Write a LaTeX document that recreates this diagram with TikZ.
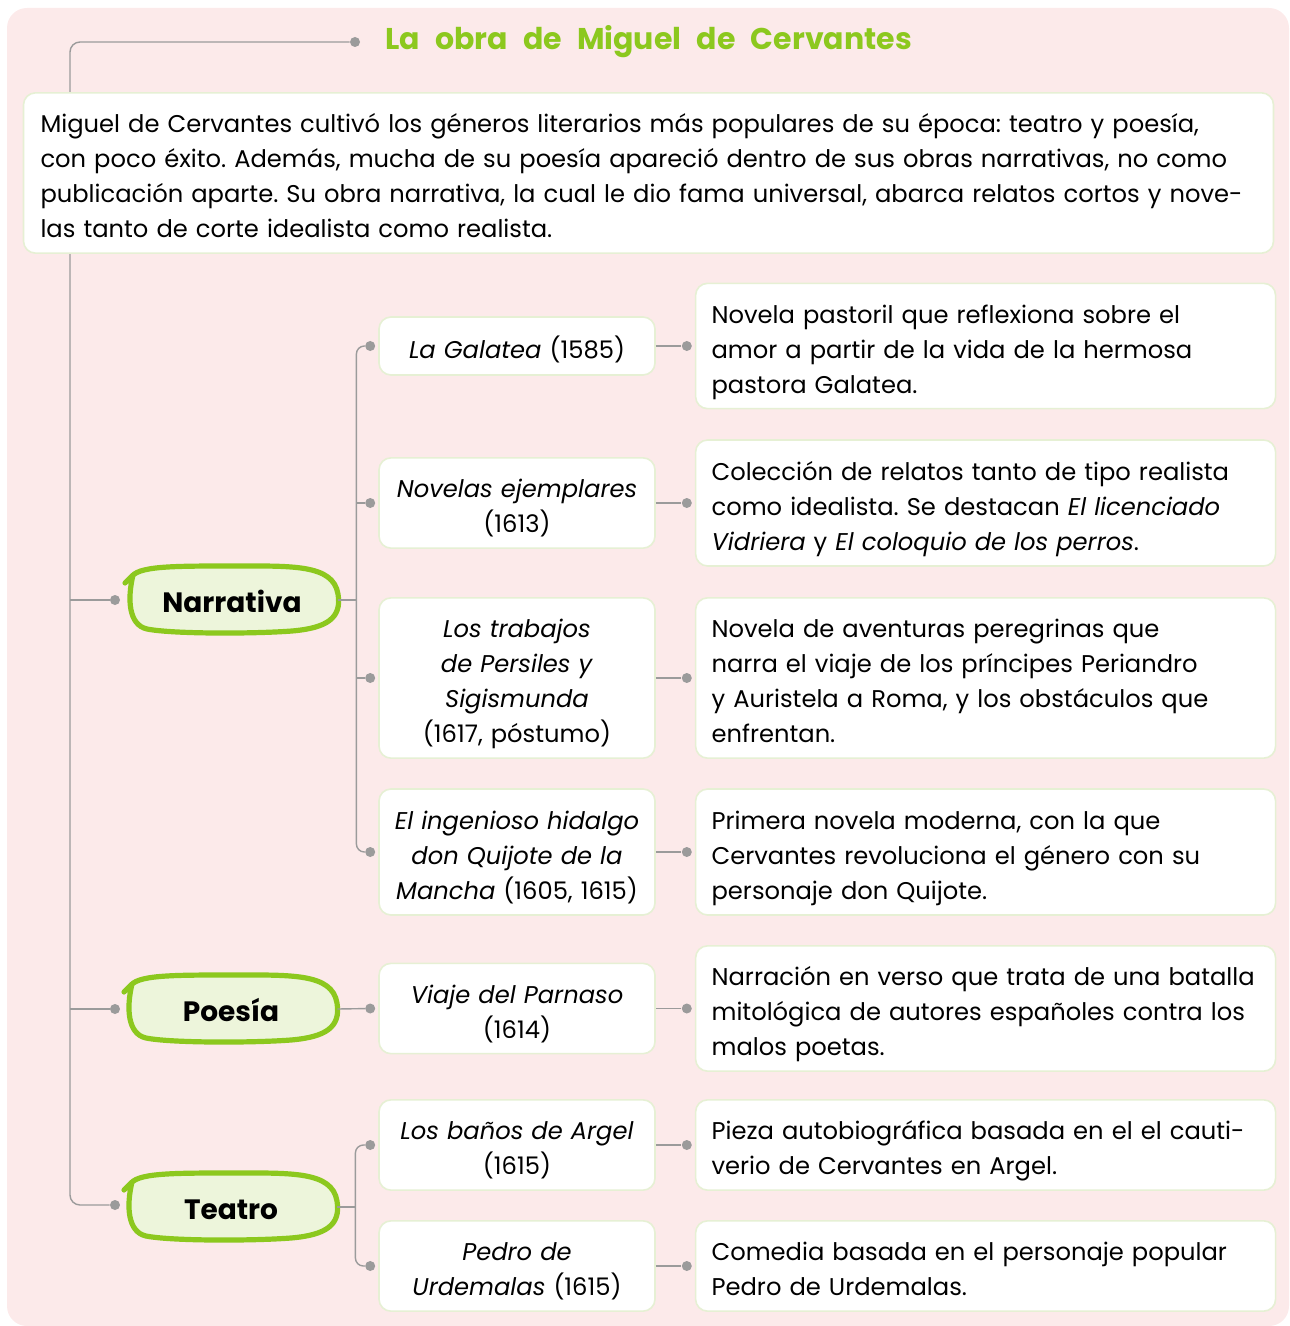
\documentclass[tikz,border=0pt]{standalone}
\usepackage{fontspec}
\setmainfont{Poppins}
\newfontfamily\titlefont[WordSpace=2.4]{Poppins}
\usetikzlibrary{positioning}
\definecolor{bgpink}{HTML}{FCEAEA}
\definecolor{leafgreen}{HTML}{8CC81E}
\definecolor{palegreen}{HTML}{EDF5DB}
\definecolor{boxline}{HTML}{E6F0D4}
\definecolor{linkgray}{HTML}{9B9B9B}
\frenchspacing

\begin{document}
\begin{tikzpicture}[
  x=0.5pt, y=-0.5pt,
  every node/.style={font=\fontsize{12.1}{17.5}\selectfont},
  boxtext/.style={execute at begin node={\rule{0pt}{16.5pt}},
    execute at end node={\rule[-4.5pt]{0pt}{4.5pt}}},
  heading/.style={font=\titlefont\fontsize{15}{18}\selectfont\bfseries, text=leafgreen},
  intro/.style={boxtext, draw=boxline, line width=0.8pt, fill=white, rounded corners=6pt,
    align=left, text width=608pt, inner xsep=8.5pt, minimum height=80pt},
  genre/.style={boxtext, minimum width=106pt, minimum height=34pt,
    font=\fontsize{14}{17}\selectfont\bfseries},
  work/.style={boxtext, draw=boxline, line width=0.8pt, fill=white, rounded corners=6pt,
    align=center, text width=128pt, inner xsep=5pt},
  desc/.style={boxtext, draw=boxline, line width=0.8pt, fill=white, rounded corners=6pt,
    align=left, text width=274pt, inner xsep=8pt},
  dot/.style={circle, fill=linkgray, inner sep=0pt, minimum size=5pt},
  link/.style={draw=linkgray, line width=0.7pt},
  genreblob/.pic={
    \filldraw[draw=leafgreen, fill=palegreen, line width=2.6pt, line cap=round, line join=round]
      (-101,-22) .. controls (-96,-34) and (-60,-34) .. (0,-34)
      .. controls (60,-34) and (101,-36) .. (106,-6)
      .. controls (110,18) and (95,28) .. (60,31)
      .. controls (20,34) and (-60,34) .. (-85,29)
      .. controls (-103,25) and (-105,0) .. (-99,-25)
      -- (-107,-17);
  },
]
\useasboundingbox (0,0) rectangle (1289,1326);
\fill[bgpink, rounded corners=10pt] (7,8) rectangle (1289,1326);

% Title
\node[heading] (title) at (648.5,42) {La obra de Miguel de Cervantes};
\node[dot] (topdot) at (355,42) {};

% Genres
\pic at (232,600) {genreblob};
\pic at (231,1009) {genreblob};
\pic at (231,1207) {genreblob};
\node[genre] (narr) at (232,600) {Narrativa};
\node[genre] (poe) at (231,1009) {Poesía};
\node[genre] (tea) at (231,1207) {Teatro};
\node[dot] (narrdot) at (115,600) {};
\node[dot] (poedot) at (115,1009) {};
\node[dot] (teadot) at (115,1205) {};

% Spine
\coordinate (spine) at (70,600);
\draw[link, rounded corners=5pt] (topdot) -| (spine) |- (teadot);
\draw[link] (narrdot) -- (narrdot -| spine);
\draw[link] (poedot) -- (poedot -| spine);

% Intro
\node[intro] (intro) at (648.5,173) {Miguel de Cervantes cultivó los géneros literarios más populares de su época: teatro y poesía,\\
con poco éxito. Además, mucha de su poesía apareció dentro de sus obras narrativas, no como\\
publicación aparte. Su obra narrativa, la cual le dio fama universal, abarca relatos cortos y nove-\\
las tanto de corte idealista como realista.};

% Works
\node[work, minimum height=29pt] (gal) at (517,346) {\textit{La Galatea} (1585)};
\node[work, minimum height=45pt] (nov) at (517,503) {\textit{Novelas ejemplares}\\(1613)};
\node[work, minimum height=80pt] (tra) at (517,678) {\textit{Los trabajos}\\\textit{de Persiles y}\\\textit{Sigismunda}\\(1617, póstumo)};
\node[work, minimum height=63pt] (qui) at (517,852) {\textit{El ingenioso hidalgo}\\\textit{don Quijote de la}\\\textit{Mancha} (1605, 1615)};
\node[work, minimum height=44.5pt] (via) at (517,1008.5) {\textit{Viaje del Parnaso}\\(1614)};
\node[work, minimum height=44pt] (ban) at (517,1145) {\textit{Los baños de Argel}\\(1615)};
\node[work, minimum height=44pt] (ped) at (517,1266) {\textit{Pedro de}\\\textit{Urdemalas} (1615)};

% Descriptions
\node[desc, minimum height=62.5pt, right=19.5pt of gal] (galdesc) {Novela pastoril que reflexiona sobre el\\amor a partir de la vida de la hermosa\\pastora Galatea.};
\node[desc, minimum height=63pt, right=19.5pt of nov] (novdesc) {Colección de relatos tanto de tipo realista\\como idealista. Se destacan \textit{El licenciado}\\\textit{Vidriera} y \textit{El coloquio de los perros}.};
\node[desc, minimum height=80pt, right=19.5pt of tra] (tradesc) {Novela de aventuras peregrinas que\\narra el viaje de los príncipes Periandro\\y Auristela a Roma, y los obstáculos que\\enfrentan.};
\node[desc, minimum height=63pt, right=19.5pt of qui] (quidesc) {Primera novela moderna, con la que\\Cervantes revoluciona el género con su\\personaje don Quijote.};
\node[desc, minimum height=62.5pt, right=19.5pt of via] (viadesc) {Narración en verso que trata de una batalla\\mitológica de autores españoles contra los\\malos poetas.};
\node[desc, minimum height=44.5pt, right=19.5pt of ban] (bandesc) {Pieza autobiográfica basada en el el cauti-\\verio de Cervantes en Argel.};
\node[desc, minimum height=44pt, right=19.5pt of ped] (peddesc) {Comedia basada en el personaje popular\\Pedro de Urdemalas.};

% Dots and links
\foreach \w in {gal,nov,tra,qui,via,ban,ped} {
  \node[dot] (\w-in) at ([xshift=-4pt]\w.west) {};
  \node[dot] (\w-out) at ([xshift=-4pt]\w desc.west) {};
  \draw[link] (\w.east) -- (\w-out);
}
\coordinate (nfork) at ([xshift=9pt]narr.east);
\draw[link] (narr.east) -- (nfork);
\draw[link, rounded corners=4pt] (gal-in) -| (nfork) |- (qui-in);
\draw[link] (nfork |- nov-in) -- (nov-in);
\draw[link] (nfork |- tra-in) -- (tra-in);
\draw[link] (poe.east) -- (via-in);
\coordinate (tfork) at ([xshift=9pt]tea.east);
\draw[link] (tea.east) -- (tfork);
\draw[link, rounded corners=4pt] (ban-in) -| (tfork) |- (ped-in);

\end{tikzpicture}
\end{document}
